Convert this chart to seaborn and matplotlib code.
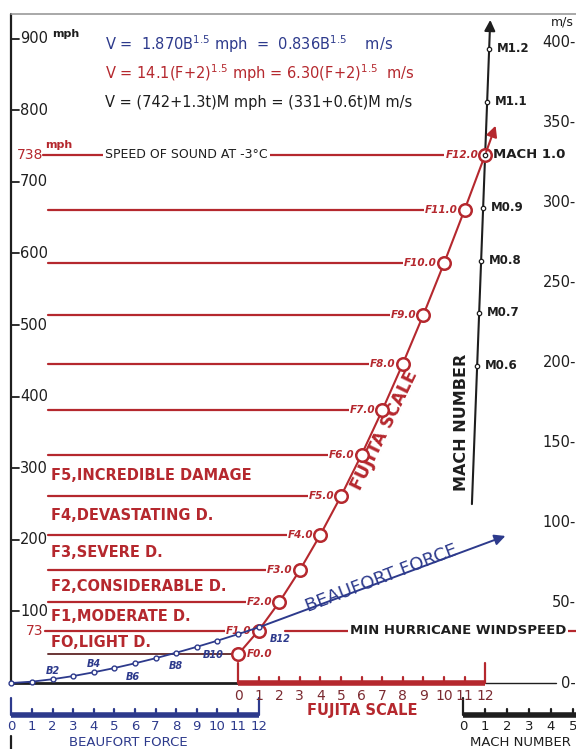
import matplotlib
matplotlib.use("Agg")
import matplotlib.pyplot as plt
import seaborn as sns

# ---- data ----
fujita_f = [0, 1, 2, 3, 4, 5, 6, 7, 8, 9, 10, 11, 12]
fujita_mph = [39.9, 73.3, 112.8, 157.6, 207.2, 261.1, 319.0, 380.7, 445.9, 514.4, 586.1, 661.0, 738.0]

beaufort_b = [0, 1, 2, 3, 4, 5, 6, 7, 8, 9, 10, 11, 12]
beaufort_mph = [0.0, 1.9, 5.3, 9.7, 15.0, 20.9, 27.5, 34.6, 42.3, 50.5, 59.1, 68.2, 77.7]

mach_labels = ["M0.6", "M0.7", "M0.8", "M0.9", "MACH 1.0", "M1.1", "M1.2"]
mach_mph = [443, 517, 590, 664, 738, 812, 886]

mph_ticks = [100, 200, 300, 400, 500, 600, 700, 800, 900]
ms_ticks = [0, 50, 100, 150, 200, 250, 300, 350, 400]
mach_axis = [0, 1, 2, 3, 4, 5]

damage_labels = ["FO,LIGHT D.", "F1,MODERATE D.", "F2,CONSIDERABLE D.",
                 "F3,SEVERE D.", "F4,DEVASTATING D.", "F5,INCREDIBLE DAMAGE"]

formulas = [
    (r"V =  1.870B$^{1.5}$ mph  =  0.836B$^{1.5}$    m/s", "#2d3a8c"),
    (r"V = 14.1(F+2)$^{1.5}$ mph = 6.30(F+2)$^{1.5}$  m/s", "#b5282e"),
    (r"V = (742+1.3t)M mph = (331+0.6t)M m/s", "#1e1e1e"),
]

RED = "#b5282e"
BLUE = "#2d3a8c"
BLACK = "#1e1e1e"
MS_TO_MPH = 2.2369


# pixel -> data helpers (layout only)
def px(p):
    return (p - 238) / 20.6


def py(p):
    return (683 - p) / 0.716


sns.set_style("white")
plt.rcParams["font.family"] = ["DejaVu Sans"]

fig = plt.figure(figsize=(5.76, 7.49), dpi=100)
ax = fig.add_axes([0, 0, 1, 1])
ax.set_xlim(px(0), px(576))
ax.set_ylim(py(749), py(0))
ax.axis("off")

# frame
ax.plot([-11, -11], [0, py(14)], color=BLACK, lw=1.6)
ax.plot([-11, px(576)], [py(14), py(14)], color="#999999", lw=1.2)
ax.plot([-11, -11], [py(736), py(749)], color=BLACK, lw=1.6)

# left mph ticks
for v in mph_ticks:
    ax.plot([-11, px(19)], [v, v], color=BLACK, lw=1.3)
    ax.text(px(20), v, str(v), ha="left", va="center", fontsize=10.5, color=BLACK)
ax.text(px(52), 900, "mph", ha="left", va="bottom", fontsize=8, fontweight="bold", color=BLACK)

# right m/s ticks
for v in ms_ticks:
    ax.text(px(576), v * MS_TO_MPH, f"{v}-", ha="right", va="center", fontsize=10.5, color=BLACK)
ax.text(px(562), py(22), "m/s", ha="center", va="center", fontsize=9, color=BLACK)

# formulas
for i, (txt, col) in enumerate(formulas):
    ax.text(px(105), py(44 + 29 * i), txt, ha="left", va="center", fontsize=10.5, color=col)

# horizontal F-level lines
for f, v in zip(fujita_f[1:], fujita_mph[1:]):
    start = 43 if f == 12 else (45 if f == 1 else 48)
    ax.plot([px(start), f], [v, v], color=RED, lw=1.6, zorder=2)
    ax.text(f - px(245) + px(238), v, f"F{f}.0", ha="right", va="center", fontsize=7.5,
            fontstyle="italic", fontweight="bold", color=RED, zorder=3,
            bbox=dict(facecolor="white", edgecolor="none", pad=0.6))
ax.plot([px(48), 0], [fujita_mph[0], fujita_mph[0]], color="#6a3535", lw=1.4, zorder=2)
ax.text(px(247), fujita_mph[0], "F0.0", ha="left", va="center", fontsize=7.5,
        fontstyle="italic", fontweight="bold", color=RED)

ax.text(px(43), 738, "738", ha="right", va="center", fontsize=10, color=RED)
ax.text(px(45), py(150), "mph", ha="left", va="bottom", fontsize=8, fontweight="bold", color=RED)
ax.text(px(43), 73.3, "73", ha="right", va="center", fontsize=10, color=RED)
ax.text(px(105), 738, "SPEED OF SOUND AT -3°C", ha="left", va="center", fontsize=9,
        color=BLACK, zorder=3, bbox=dict(facecolor="white", edgecolor="none", pad=1.5))

# damage category labels
for lab, lo, hi in zip(damage_labels, fujita_mph[:-1], fujita_mph[1:]):
    ax.text(px(51), (lo + hi) / 2, lab, ha="left", va="center", fontsize=10.5,
            fontweight="bold", color=RED)

# minimum hurricane windspeed
ax.plot([px(285), px(576)], [73.3, 73.3], color=RED, lw=1.6, zorder=2)
ax.text(px(458), 73.3, "MIN HURRICANE WINDSPEED", ha="center", va="center", fontsize=9.5,
        fontweight="bold", color=BLACK, zorder=3,
        bbox=dict(facecolor="white", edgecolor="none", pad=1.5))

# Fujita curve
sns.lineplot(x=fujita_f, y=fujita_mph, ax=ax, color=RED, lw=1.5, sort=False, estimator=None,
             marker="o", markersize=9, markerfacecolor="white", markeredgecolor=RED,
             markeredgewidth=1.8, zorder=5)
ax.annotate("", xy=(12.55, 782), xytext=(12, 738),
            arrowprops=dict(arrowstyle="-|>", color=RED, lw=1.5, mutation_scale=16), zorder=5)
ax.text(px(385), py(430), "FUJITA SCALE", rotation=64, ha="center", va="center",
        fontsize=12.5, fontweight="bold", color=RED)

# Beaufort curve
beaufort_x = [b - 11 for b in beaufort_b]
sns.lineplot(x=beaufort_x, y=beaufort_mph, ax=ax, color=BLUE, lw=1.3, sort=False, estimator=None,
             marker="o", markersize=3.5, markerfacecolor="white", markeredgecolor=BLUE,
             markeredgewidth=1.0, zorder=6)
ax.annotate("", xy=(px(508), py(535)), xytext=(1, 77.7),
            arrowprops=dict(arrowstyle="-|>", color=BLUE, lw=1.4, mutation_scale=16), zorder=5)
ax.text(px(382), py(578), "BEAUFORT FORCE", rotation=21, ha="center", va="center",
        fontsize=13, color=BLUE)
blab = {2: (53, 671), 4: (94, 664), 6: (133, 677), 8: (176, 666), 10: (213, 655), 12: (280, 639)}
for b, (xp, yp) in blab.items():
    ax.text(px(xp), py(yp), f"B{b}", ha="center", va="center", fontsize=7,
            fontstyle="italic", fontweight="bold", color=BLUE)

# Mach line
m_x0, m_y0, m_x1, m_y1 = 11.35, 246, 12.25, 930
ax.annotate("", xy=(m_x1, m_y1), xytext=(m_x0, m_y0),
            arrowprops=dict(arrowstyle="-|>", color=BLACK, lw=1.5, mutation_scale=16), zorder=4)
mach_x = [m_x0 + (v - m_y0) * (m_x1 - m_x0) / (m_y1 - m_y0) for v in mach_mph]
ax.scatter(mach_x, mach_mph, s=10, facecolor="white", edgecolor=BLACK, lw=0.9, zorder=6)
for lab, xv, v in zip(mach_labels, mach_x, mach_mph):
    big = lab.startswith("MACH")
    ax.text(xv + px(246) - px(238), v, lab, ha="left", va="center",
            fontsize=9.5 if big else 8.5, fontweight="bold", color=BLACK)
ax.text(px(461), py(422), "MACH NUMBER", rotation=90, ha="center", va="center",
        fontsize=11.5, fontweight="bold", color=BLACK)

# baseline
ax.plot([-11, 0], [0, 0], color=BLACK, lw=2)
ax.plot([12, px(556)], [0, 0], color=BLACK, lw=1)

# Fujita axis
ax.plot([0, 12], [0, 0], color=RED, lw=4, solid_capstyle="butt")
for f in fujita_f:
    top = py(663) if f in (0, 12) else py(677)
    ax.plot([f, f], [0, top], color=RED, lw=1.6)
    ax.text(f, py(696), str(f), ha="center", va="center", fontsize=10, color="#7a2a30")
ax.text(px(362), py(711), "FUJITA SCALE", ha="center", va="center", fontsize=10.5,
        fontweight="bold", color=RED)

# Beaufort axis
yb = py(715)
ax.plot([-11, 1], [yb, yb], color=BLUE, lw=4, solid_capstyle="butt")
for b, xb in zip(beaufort_b, beaufort_x):
    top = py(698) if b in (0, 12) else py(709)
    ax.plot([xb, xb], [yb, top], color=BLUE, lw=1.6)
    ax.text(xb, py(727), str(b), ha="center", va="center", fontsize=9.5, color=BLUE)
ax.text(px(128), py(748.5), "BEAUFORT FORCE", ha="center", va="bottom", fontsize=9.5, color=BLUE)

# Mach axis
mach_ax_x = [px(463) + m * 22 / 20.6 for m in mach_axis]
ax.plot([mach_ax_x[0], px(576)], [yb, yb], color=BLACK, lw=4, solid_capstyle="butt")
for m, xm in zip(mach_axis, mach_ax_x):
    top = py(698) if m == 0 else py(709)
    ax.plot([xm, xm], [yb, top], color=BLACK, lw=1.6)
    ax.text(xm, py(727), str(m), ha="center", va="center", fontsize=9.5, color=BLACK)
ax.text(px(520), py(748.5), "MACH NUMBER", ha="center", va="bottom", fontsize=9.5, color=BLACK)

fig.savefig("out.png", dpi=100)
plt.close(fig)
